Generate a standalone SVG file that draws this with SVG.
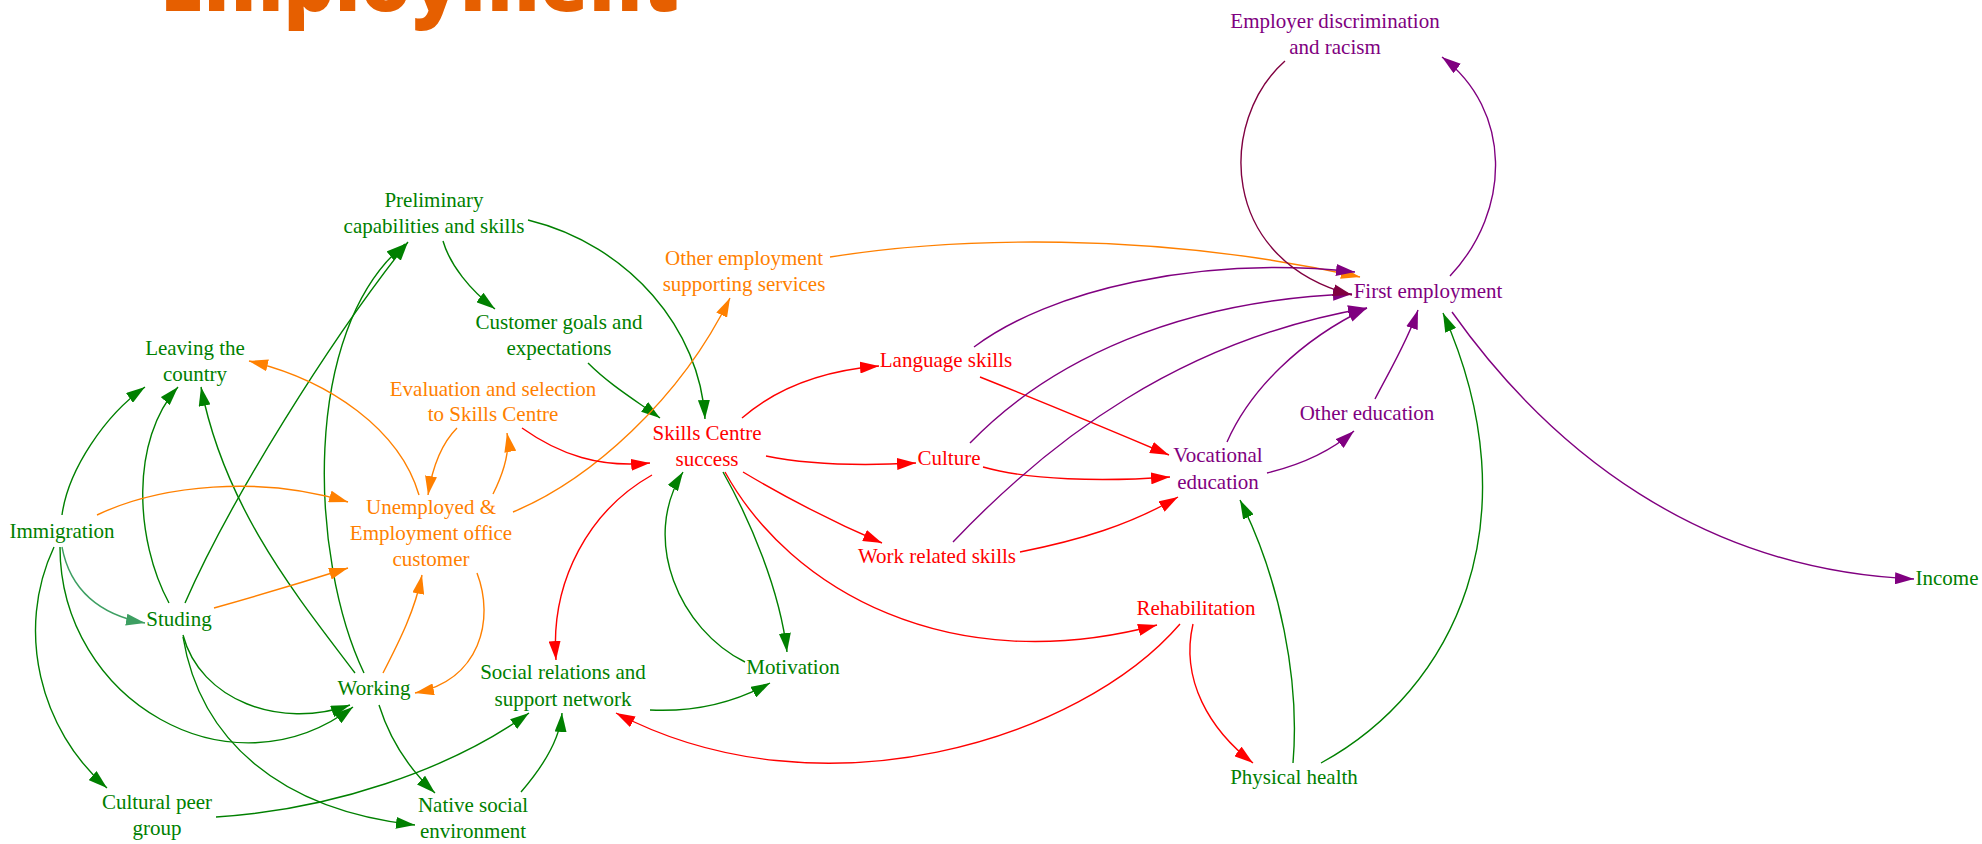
<svg xmlns="http://www.w3.org/2000/svg" width="1982" height="844" viewBox="0 0 1982 844">
<style>
.t{font-family:"Liberation Serif","Times New Roman",serif;font-size:21px;text-anchor:middle}
.G{fill:#008000}.O{fill:#FF8000}.R{fill:#FF0000}.P{fill:#800080}
path.e{fill:none;stroke-width:1.4}
.eg{stroke:#008000}.es{stroke:#3D9F62}.eo{stroke:#FF8000}.er{stroke:#FF0000}.ep{stroke:#800080}.em{stroke:#800040}
.eg{marker-end:url(#ag)}.es{marker-end:url(#as)}.eo{marker-end:url(#ao)}.er{marker-end:url(#ar)}.ep{marker-end:url(#ap)}.em{marker-end:url(#am)}
.title{font-family:"Open Sans","Liberation Sans",sans-serif;font-weight:800;font-size:82px;fill:#E65F00}
</style>
<defs>
<marker id="ag" viewBox="0 0 19 12" refX="19" refY="6" markerWidth="19" markerHeight="12" markerUnits="userSpaceOnUse" orient="auto"><path d="M0,0 L19,6 L0,12 Z" fill="#008000"/></marker>
<marker id="as" viewBox="0 0 19 12" refX="19" refY="6" markerWidth="19" markerHeight="12" markerUnits="userSpaceOnUse" orient="auto"><path d="M0,0 L19,6 L0,12 Z" fill="#3D9F62"/></marker>
<marker id="ao" viewBox="0 0 19 12" refX="19" refY="6" markerWidth="19" markerHeight="12" markerUnits="userSpaceOnUse" orient="auto"><path d="M0,0 L19,6 L0,12 Z" fill="#FF8000"/></marker>
<marker id="ar" viewBox="0 0 19 12" refX="19" refY="6" markerWidth="19" markerHeight="12" markerUnits="userSpaceOnUse" orient="auto"><path d="M0,0 L19,6 L0,12 Z" fill="#FF0000"/></marker>
<marker id="ap" viewBox="0 0 19 12" refX="19" refY="6" markerWidth="19" markerHeight="12" markerUnits="userSpaceOnUse" orient="auto"><path d="M0,0 L19,6 L0,12 Z" fill="#800080"/></marker>
<marker id="am" viewBox="0 0 19 12" refX="19" refY="6" markerWidth="19" markerHeight="12" markerUnits="userSpaceOnUse" orient="auto"><path d="M0,0 L19,6 L0,12 Z" fill="#800040"/></marker>
</defs>
<rect width="1982" height="844" fill="#FFFFFF"/>
<g id="title"><text class="title" x="160" y="11" textLength="519" lengthAdjust="spacingAndGlyphs">Employment</text></g>
<g id="connectors">
<path class="e eg" d="M62,515 C68,470 105,415 145,387"/>
<path class="e eg" d="M169,603 C135,540 130,440 178,387"/>
<path class="e eg" d="M355,673 C300,600 225,510 201,387"/>
<path class="e eg" d="M185,603 C230,500 330,340 408,242"/>
<path class="e eg" d="M364,673 C310,560 300,330 405,244"/>
<path class="e eg" d="M443,241 C450,265 470,290 495,309"/>
<path class="e eg" d="M528,220 C630,245 700,330 705,419"/>
<path class="e eg" d="M588,363 C610,385 635,400 660,418"/>
<path class="e eg" d="M60,547 C60,700 230,800 353,707"/>
<path class="e eg" d="M183,635 C200,700 280,730 350,705"/>
<path class="e eg" d="M54,547 C15,630 40,730 107,788"/>
<path class="e eg" d="M183,637 C200,740 280,810 415,825"/>
<path class="e eg" d="M379,705 C390,740 410,770 435,793"/>
<path class="e eg" d="M216,817 C330,810 450,770 529,713"/>
<path class="e eg" d="M521,792 C540,770 560,740 562,713"/>
<path class="e eg" d="M650,710 C690,712 730,705 770,683"/>
<path class="e eg" d="M745,662 C680,630 640,540 683,472"/>
<path class="e eg" d="M723,472 C750,520 780,590 787,652"/>
<path class="e eg" d="M1293,763 C1300,680 1280,580 1240,500"/>
<path class="e eg" d="M1321,763 C1455,690 1535,520 1443,313"/>
<path class="e es" d="M62,547 C70,590 100,615 145,623"/>
<path class="e eo" d="M97,515 C160,485 260,475 348,502"/>
<path class="e eo" d="M214,608 C260,595 310,580 348,568"/>
<path class="e eo" d="M383,673 C400,640 415,610 422,575"/>
<path class="e eo" d="M477,573 C495,620 480,680 415,693"/>
<path class="e eo" d="M419,495 C400,430 330,380 249,361"/>
<path class="e eo" d="M457,428 C440,445 432,470 428,495"/>
<path class="e eo" d="M493,494 C505,470 510,450 507,433"/>
<path class="e eo" d="M513,512 C590,480 680,400 730,298"/>
<path class="e eo" d="M830,257 C950,238 1150,230 1360,277"/>
<path class="e er" d="M522,428 C560,455 600,468 650,463"/>
<path class="e er" d="M742,418 C780,385 830,370 879,366"/>
<path class="e er" d="M766,456 C810,465 860,466 916,463"/>
<path class="e er" d="M743,472 C790,500 840,525 882,543"/>
<path class="e er" d="M725,472 C790,590 950,680 1157,625"/>
<path class="e er" d="M652,475 C590,510 550,580 556,660"/>
<path class="e er" d="M1180,624 C1080,740 820,820 616,713"/>
<path class="e er" d="M1193,624 C1180,680 1210,730 1253,763"/>
<path class="e er" d="M980,377 C1050,405 1110,430 1169,455"/>
<path class="e er" d="M983,467 C1030,480 1100,482 1170,477"/>
<path class="e er" d="M1020,552 C1080,540 1130,525 1178,497"/>
<path class="e ep" d="M974,347 C1050,290 1200,255 1355,272"/>
<path class="e ep" d="M970,443 C1050,360 1180,300 1352,294"/>
<path class="e ep" d="M953,542 C1050,440 1180,340 1367,308"/>
<path class="e ep" d="M1227,442 C1250,390 1300,340 1367,308"/>
<path class="e ep" d="M1267,473 C1300,465 1330,452 1354,431"/>
<path class="e ep" d="M1375,399 C1390,370 1408,340 1418,310"/>
<path class="e ep" d="M1450,276 C1512,210 1512,110 1442,57"/>
<path class="e ep" d="M1452,312 C1550,450 1700,570 1914,579"/>
<path class="e em" d="M1285,61 C1218,120 1218,260 1352,295"/>
</g>
<g id="employer_discrimination"><text class="t P" x="1335" y="28">Employer discrimination<tspan x="1335" y="54">and racism</tspan></text></g>
<g id="preliminary"><text class="t G" x="434" y="207">Preliminary<tspan x="434" y="233">capabilities and skills</tspan></text></g>
<g id="other_employment"><text class="t O" x="744" y="265">Other employment<tspan x="744" y="291">supporting services</tspan></text></g>
<g id="first_employment"><text class="t P" x="1428" y="298">First employment</text></g>
<g id="customer_goals"><text class="t G" x="559" y="329">Customer goals and<tspan x="559" y="355">expectations</tspan></text></g>
<g id="leaving"><text class="t G" x="195" y="355">Leaving the<tspan x="195" y="381">country</tspan></text></g>
<g id="language"><text class="t R" x="946" y="367">Language skills</text></g>
<g id="evaluation"><text class="t O" x="493" y="396">Evaluation and selection<tspan x="493" y="421">to Skills Centre</tspan></text></g>
<g id="other_education"><text class="t P" x="1367" y="420">Other education</text></g>
<g id="skills_centre"><text class="t R" x="707" y="440">Skills Centre<tspan x="707" y="466">success</tspan></text></g>
<g id="culture"><text class="t R" x="949" y="465">Culture</text></g>
<g id="vocational"><text class="t P" x="1218" y="462">Vocational<tspan x="1218" y="489">education</tspan></text></g>
<g id="unemployed"><text class="t O" x="431" y="514">Unemployed &amp;<tspan x="431" y="540">Employment office</tspan><tspan x="431" y="566">customer</tspan></text></g>
<g id="immigration"><text class="t G" x="62" y="538">Immigration</text></g>
<g id="work_skills"><text class="t R" x="937" y="563">Work related skills</text></g>
<g id="income"><text class="t G" x="1947" y="585">Income</text></g>
<g id="rehabilitation"><text class="t R" x="1196" y="615">Rehabilitation</text></g>
<g id="studing"><text class="t G" x="179" y="626">Studing</text></g>
<g id="motivation"><text class="t G" x="793" y="674">Motivation</text></g>
<g id="social_relations"><text class="t G" x="563" y="679">Social relations and<tspan x="563" y="706">support network</tspan></text></g>
<g id="working"><text class="t G" x="374" y="695">Working</text></g>
<g id="physical_health"><text class="t G" x="1294" y="784">Physical health</text></g>
<g id="cultural_peer"><text class="t G" x="157" y="809">Cultural peer<tspan x="157" y="835">group</tspan></text></g>
<g id="native_social"><text class="t G" x="473" y="812">Native social<tspan x="473" y="838">environment</tspan></text></g>
</svg>
